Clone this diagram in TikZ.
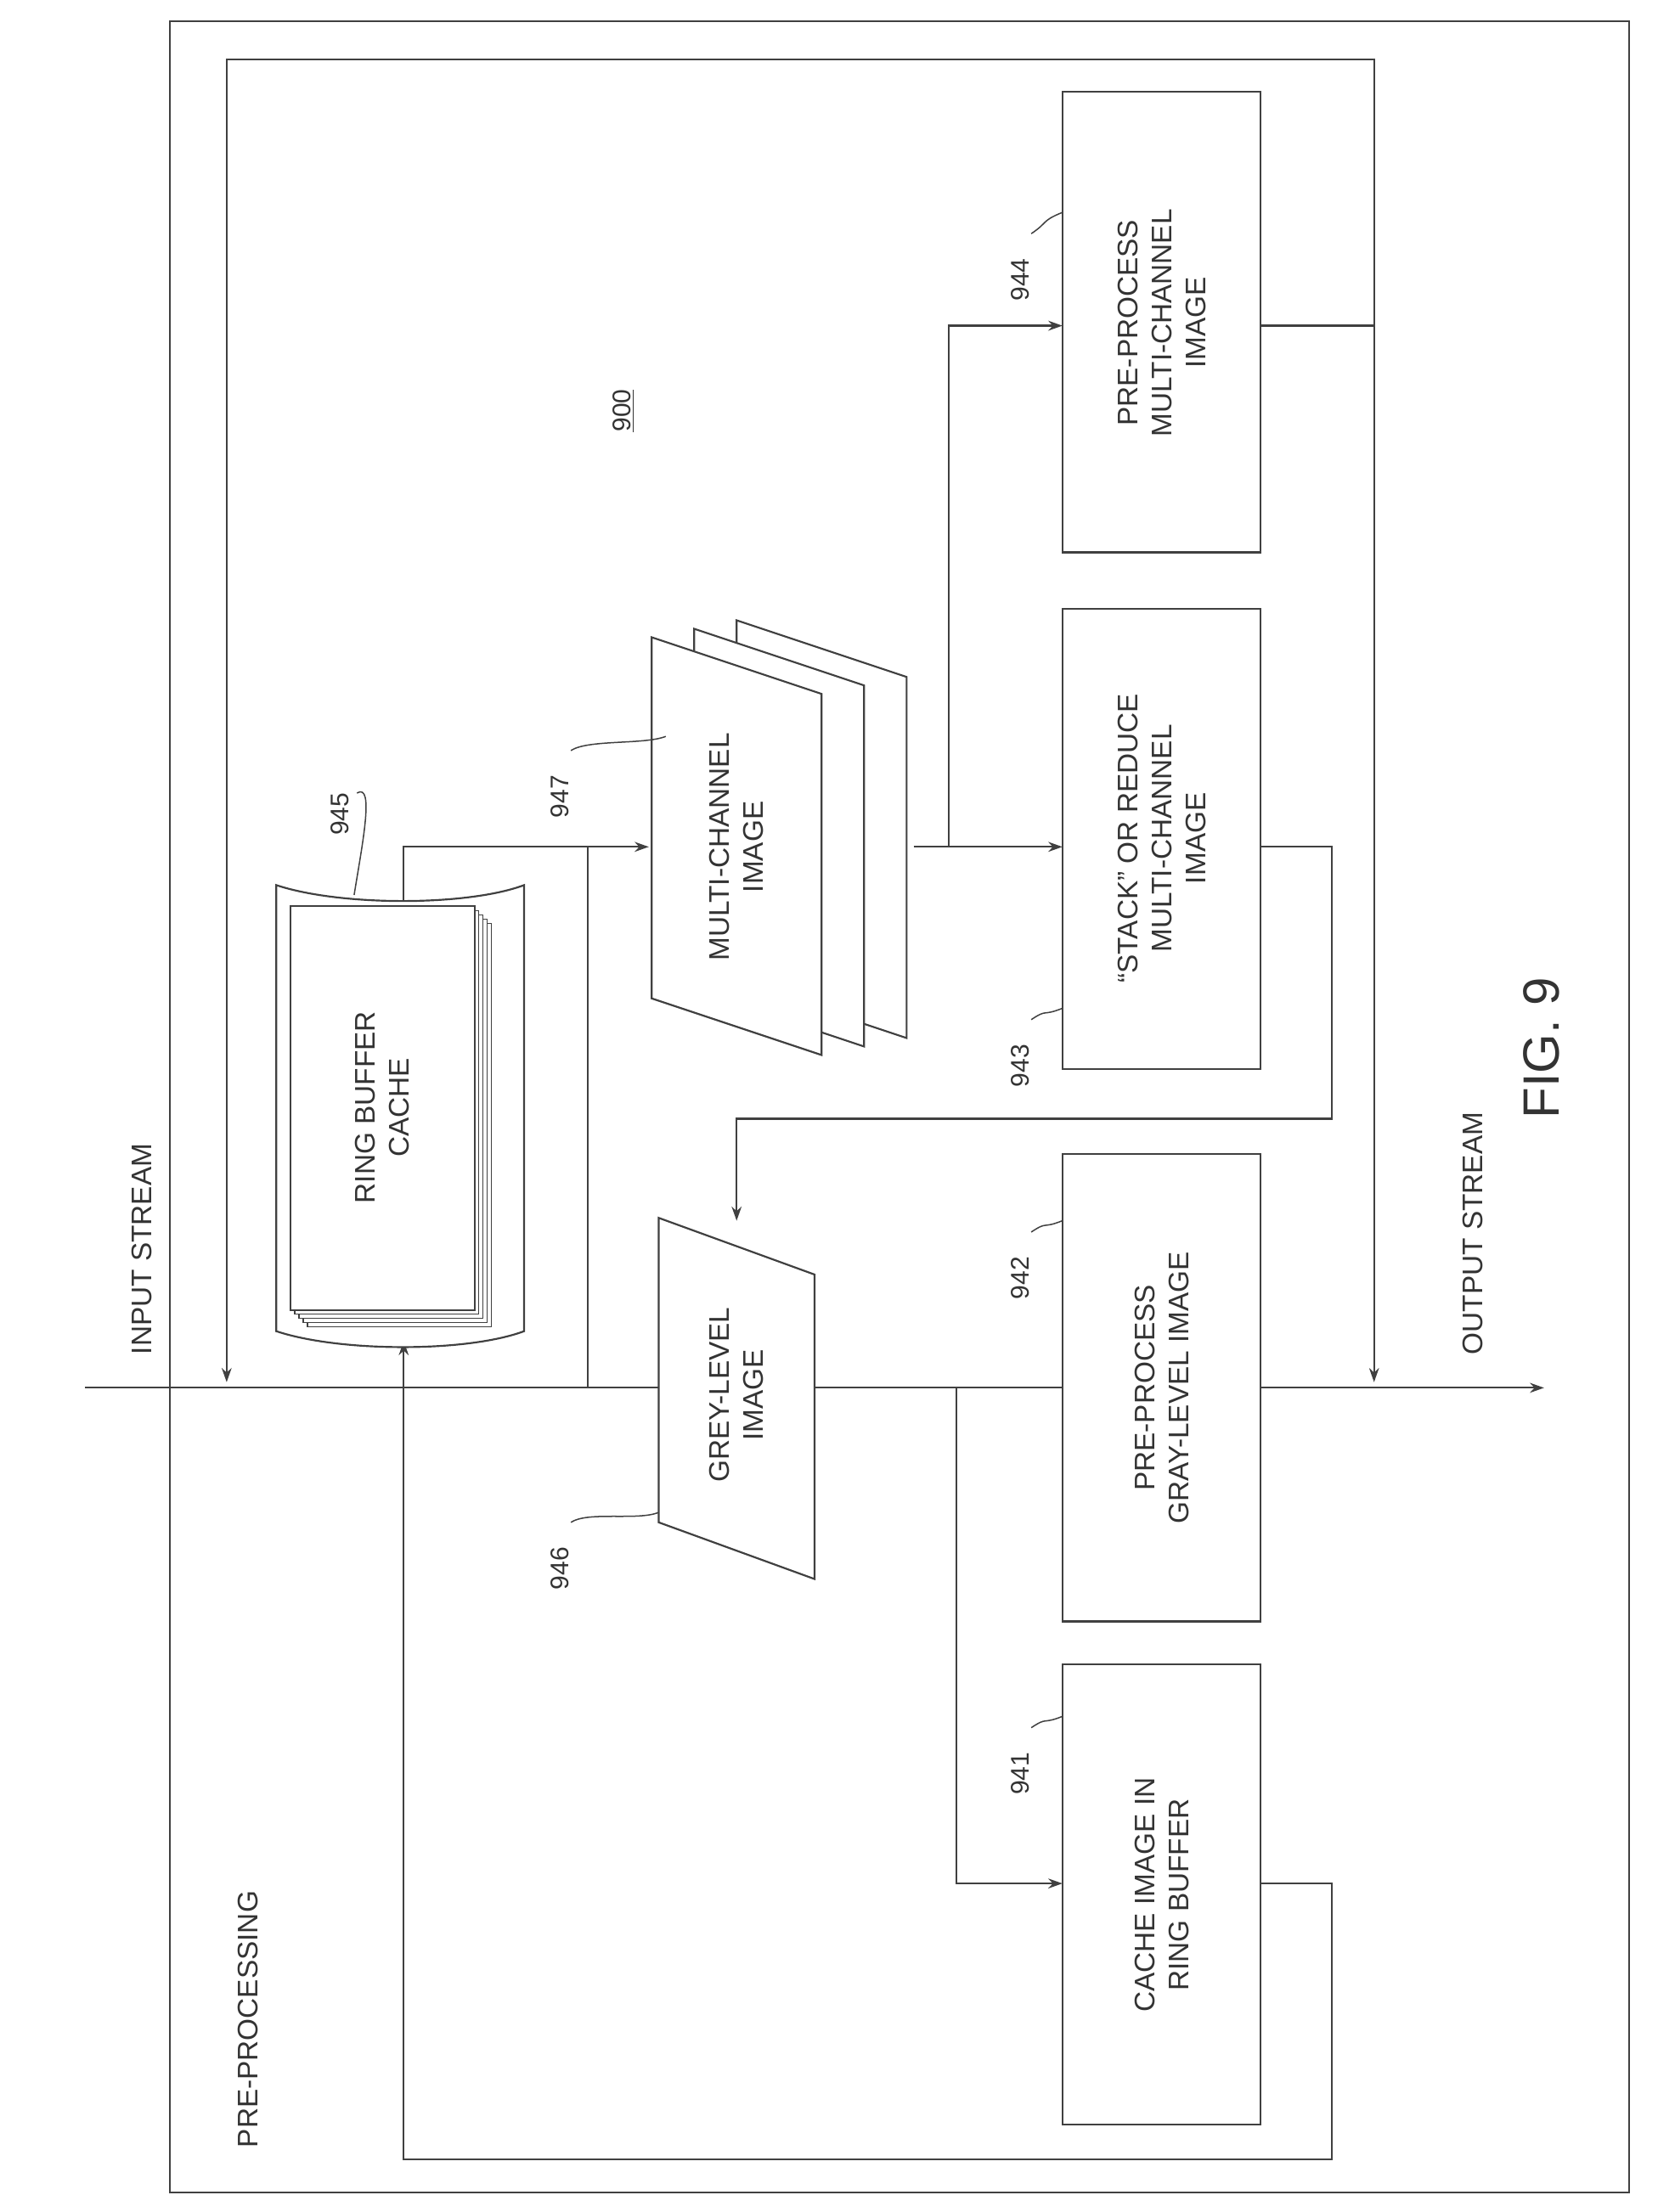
\documentclass[tikz,border=0pt]{standalone}
\usepackage{fontspec}
\setmainfont{Liberation Sans}
\usetikzlibrary{arrows.meta}
\begin{document}
\begin{tikzpicture}[x=1pt,y=-1pt,
  ln/.style={draw=black!75,line width=1.3pt},
  arr/.style={ln,-{Stealth[length=10pt,width=7pt]}},
  box/.style={ln,fill=white},
  txt/.style={rotate=90,align=center,font=\fontsize{20}{24}\selectfont,text=black!80},
  lab/.style={rotate=90,font=\fontsize{18}{20}\selectfont,text=black!80}]
\fill[white] (0,0) rectangle (1170,1562);
\draw[ln] (120,15) rectangle (1150,1548);
\node[lab] (n900) at (440,290) {\underline{900}};
\node[txt,anchor=west] (ins) at (100,960) {INPUT STREAM};
\node[txt,anchor=west] (outs) at (1040,960) {OUTPUT STREAM};
\node[txt,anchor=west] (pp) at (175,1520) {PRE-PROCESSING};
\node[rotate=90,font=\fontsize{36}{40}\selectfont,text=black!80] (fig) at (1088,740) {FIG. 9};
% stream and connectors (behind shapes)
\coordinate (s0) at (60,980); \coordinate (s1) at (1090,980);
\draw[arr] (s0) -- (s1);
\draw[ln] (415,980) -- (415,598);
\draw[arr] (285,640) -- (285,598) -- (458,598);
\draw[ln] (645,598) -- (670,598);
\draw[arr] (670,598) -- (750,598);
\draw[arr] (670,598) -- (670,230) -- (750,230);
\draw[arr] (890,598) -- (940,598) -- (940,790) -- (520,790) -- (520,862);
\draw[arr] (675,980) -- (675,1330) -- (750,1330);
\draw[arr] (890,230) -- (970,230) -- (970,976);
\draw[arr] (970,230) -- (970,42) -- (160,42) -- (160,976);
\draw[arr] (890,1330) -- (940,1330) -- (940,1525) -- (285,1525) -- (285,947);
% boxes
\draw[box] (750,65) rectangle (890,390); \node[txt] (b944) at (820,228) {PRE-PROCESS\\MULTI-CHANNEL\\IMAGE};
\draw[box] (750,430) rectangle (890,755); \node[txt] (b943) at (820,592) {``STACK'' OR REDUCE\\MULTI-CHANNEL\\IMAGE};
\draw[box] (750,815) rectangle (890,1145); \node[txt] (b942) at (820,980) {PRE-PROCESS\\GRAY-LEVEL IMAGE};
\draw[box] (750,1175) rectangle (890,1500); \node[txt] (b941) at (820,1338) {CACHE IMAGE IN\\RING BUFFER};
% grey level
\draw[box] (465,860) -- (575,900) -- (575,1115) -- (465,1075) -- cycle;
\node[txt] (gl) at (520,985) {GREY-LEVEL\\IMAGE};
% multi-channel stack
\foreach \d in {60,30} {\draw[box] (460+\d,450-\d*0.2) -- (580+\d,490-\d*0.2) -- (580+\d,745-\d*0.2) -- (460+\d,705-\d*0.2) -- cycle;}
\draw[box] (460,450) -- (580,490) -- (580,745) -- (460,705) -- cycle;
\node[txt] (mc) at (520,598) {MULTI-CHANNEL\\IMAGE};
% ring buffer
\draw[box] (195,625) .. controls (240,640) and (330,640) .. (370,625) -- (370,940) .. controls (330,955) and (240,955) .. (195,940) -- cycle;
\foreach \i in {12,9,6,3} {\draw[ln,line width=0.8pt,fill=white] (205+\i,640+\i) rectangle (335+\i,925+\i);}
\draw[box] (205,640) rectangle (335,925);
\node[txt] (rb) at (270,782) {RING BUFFER\\CACHE};
% labels
\foreach \x/\y/\t/\tx/\ty in {720/1220/941/750/1212, 720/870/942/750/862, 720/720/943/750/712, 720/165/944/750/150, 395/1075/946/465/1068, 395/530/947/470/520}{
  \node[lab,anchor=east] at (\x,\y+14) {\t};
  \draw[ln,line width=0.9pt] (\x+8,\y) .. controls (\x+20,\y-8) and (\tx-15,\ty+6) .. (\tx,\ty);}
\node[lab] (l945) at (240,575) {945};
\draw[ln,line width=0.9pt] (252,560) .. controls (265,552) and (255,600) .. (250,632);
\end{tikzpicture}
\end{document}
